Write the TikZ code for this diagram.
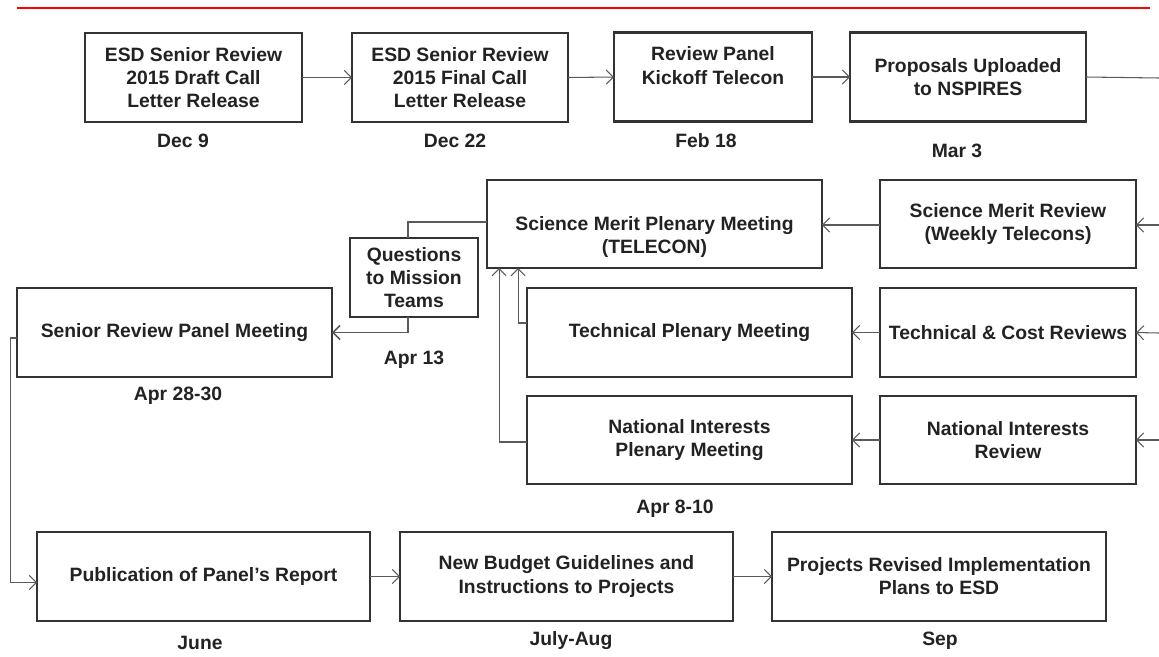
\documentclass[tikz,border=0pt]{standalone}
\usepackage{fontspec}
\setmainfont{Liberation Sans}
\usetikzlibrary{arrows.meta,calc}
\definecolor{boxline}{HTML}{333333}
\definecolor{txt}{HTML}{222222}
\definecolor{wire}{HTML}{5A5A5A}
\begin{document}
\begin{tikzpicture}[x=0.02cm,y=-0.02cm,inner sep=0pt,outer sep=0pt,
font=\fontsize{11}{13.1}\selectfont\bfseries,text=txt,
>={Straight Barb[length=4pt,width=8pt]},
box/.style={draw=boxline,rectangle,line width=1.4pt,align=center,minimum height=1.78cm},
wire/.style={draw=wire,line width=0.6pt}]
\useasboundingbox (0,0) rectangle (1159,656);
\draw[red,line width=1.7pt] (17,8) -- (1150,8);
% top row
\draw (193.5,77.5) node[box,minimum width=4.34cm] (draft) {ESD Senior Review\\2015 Draft Call\\Letter Release};
\draw (460,77.5) node[box,minimum width=4.32cm] (final) {ESD Senior Review\\2015 Final Call\\Letter Release};
\draw (713,77) node[box,minimum width=3.96cm] (kickoff) {Review Panel\\Kickoff Telecon\\\mbox{}};
\draw (968,77) node[box,minimum width=4.72cm] (nspires) {Proposals Uploaded\\to NSPIRES};
\draw (183,141) node (dec9) {Dec 9};
\draw (455,141) node (dec22) {Dec 22};
\draw (706,141) node (feb18) {Feb 18};
\draw (957,151) node (mar3) {Mar 3};
\coordinate (outR) at (1159,78);
\draw[wire,->] (draft.east) -- (final.west);
\draw[wire,->] (final.east) -- (kickoff.west);
\draw[wire,->] (kickoff.east) -- (nspires.west);
\draw[wire] (nspires.east) -- (outR);
% plenaries and reviews
\draw (654.5,224) node[box,minimum width=6.7cm,minimum height=1.76cm] (smplen) {\strut\\Science Merit Plenary Meeting\\(TELECON)};
\draw (1008,224) node[box,minimum width=5.12cm,minimum height=1.76cm] (smrev) {Science Merit Review\\(Weekly Telecons)};
\draw (414,277.5) node[box,minimum width=2.56cm,minimum height=1.58cm] (quest) {Questions\\to Mission\\Teams};
\draw (174.5,332.5) node[box,minimum width=6.3cm] (senior) {Senior Review Panel Meeting};
\draw (689.5,332.5) node[box,minimum width=6.5cm] (techplen) {Technical Plenary Meeting};
\draw (1008,332.5) node[box,minimum width=5.12cm] (tcrev) {Technical \& Cost Reviews};
\draw (689.5,440) node[box,minimum width=6.5cm,minimum height=1.76cm] (niplen) {National Interests\\Plenary Meeting};
\draw (1008,440) node[box,minimum width=5.12cm,minimum height=1.76cm] (nirev) {National Interests\\Review};
\draw (414,360) node (apr13) {Apr 13};
\draw (178,396) node (apr28) {Apr 28-30};
\draw (675,509) node (apr8) {Apr 8-10};
\coordinate (inSM) at (1159,225);
\coordinate (inTC) at (1159,333);
\coordinate (inNI) at (1159,440);
\draw[wire,->] (inSM) -- (smrev.east |- inSM);
\draw[wire,->] (inTC) -- (tcrev.east);
\draw[wire,->] (inNI) -- (nirev.east);
\draw[wire,->] (smrev.west |- inSM) -- (smplen.east |- inSM);
\draw[wire,->] (tcrev.west) -- (techplen.east);
\draw[wire,->] (nirev.west) -- (niplen.east);
\draw[wire,->] (techplen.west) ++(0,-9.5) -| ($(smplen.south west)+(31,0)$);
\draw[wire,->] (niplen.west) ++(0,2) -| ($(smplen.south west)+(12,0)$);
\draw[wire,line width=0.9pt] (smplen.west) ++(0,-2) -| ($(quest.north)+(-6,0)$);
\draw[wire,line width=0.9pt,->] ($(quest.south)+(-6,0)$) |- (senior.east);
% bottom row
\draw (203.5,576.5) node[box,minimum width=6.66cm] (pub) {Publication of Panel's Report};
\draw (566.5,576.5) node[box,minimum width=6.66cm] (budget) {New Budget Guidelines and\\Instructions to Projects};
\draw (939,576.5) node[box,minimum width=6.68cm] (plans) {Projects Revised Implementation\\Plans to ESD};
\draw (200,643) node (june) {June};
\draw (571,641) node (julaug) {July-Aug};
\draw (940,641) node (sep) {Sep};
\draw[wire,->] (senior.west) ++(0,5.5) -- ++(-7,0) |- ($(pub.west)+(0,6)$);
\draw[wire,->] (pub.east) -- (budget.west);
\draw[wire,->] (budget.east) -- (plans.west);
\end{tikzpicture}
\end{document}
